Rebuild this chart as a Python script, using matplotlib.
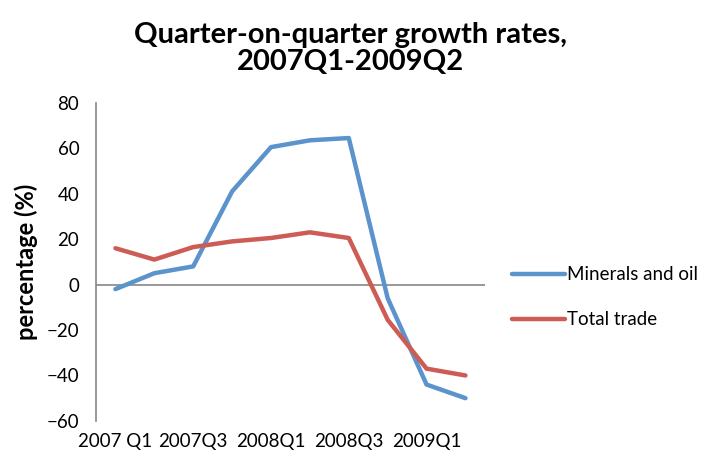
import matplotlib.pyplot as plt
import numpy as np

plt.rcParams['font.family'] = ['Lato', 'DejaVu Sans']

quarters = ["2007 Q1", "2007Q2", "2007Q3", "2007Q4", "2008Q1", "2008Q2",
            "2008Q3", "2008Q4", "2009Q1", "2009Q2"]
minerals_oil = [-2, 5, 8, 41, 60.5, 63.5, 64.5, -6, -44, -50]
total_trade = [16, 11, 16.5, 19, 20.5, 23, 20.5, -15.5, -37, -40]

blue = "#5B93CC"
red = "#CD5C55"
grey = "#868686"

fig = plt.figure(figsize=(7.11, 4.59), dpi=100)
ax = fig.add_axes([0.135, 0.083, 0.547, 0.693])

x = np.arange(len(quarters))
ax.plot(x, minerals_oil, color=blue, lw=3.2, label="Minerals and oil",
        solid_capstyle="round", solid_joinstyle="round", zorder=3)
ax.plot(x, total_trade, color=red, lw=3.2, label="Total trade",
        solid_capstyle="round", solid_joinstyle="round", zorder=3)

ax.set_xlim(-0.5, len(quarters) - 0.5)
ax.set_ylim(-60, 80)
ax.set_yticks(range(-60, 81, 20))
ax.set_xticks(x[::2])
ax.set_xticklabels(quarters[::2])
ax.tick_params(axis="both", length=0, labelsize=13.5, colors="black")
ax.tick_params(axis="x", pad=9)
ax.tick_params(axis="y", pad=12)

for side in ["top", "right", "bottom"]:
    ax.spines[side].set_visible(False)
ax.spines["left"].set_color(grey)
ax.spines["left"].set_linewidth(1.2)
ax.axhline(0, color=grey, lw=1.2, zorder=2)

ax.set_ylabel("percentage (%)", fontsize=17, fontweight="bold", labelpad=6)

fig.text(0.493, 0.894, "Quarter-on-quarter growth rates,\n2007Q1-2009Q2",
         ha="center", va="center", fontsize=21, fontweight="bold",
         linespacing=1.05)

fig.legend(loc="center left", bbox_to_anchor=(0.697, 0.352), frameon=False,
           fontsize=13.5, handlelength=2.8, handletextpad=0.1, labelspacing=1.5)

fig.savefig("out.png", dpi=100)
